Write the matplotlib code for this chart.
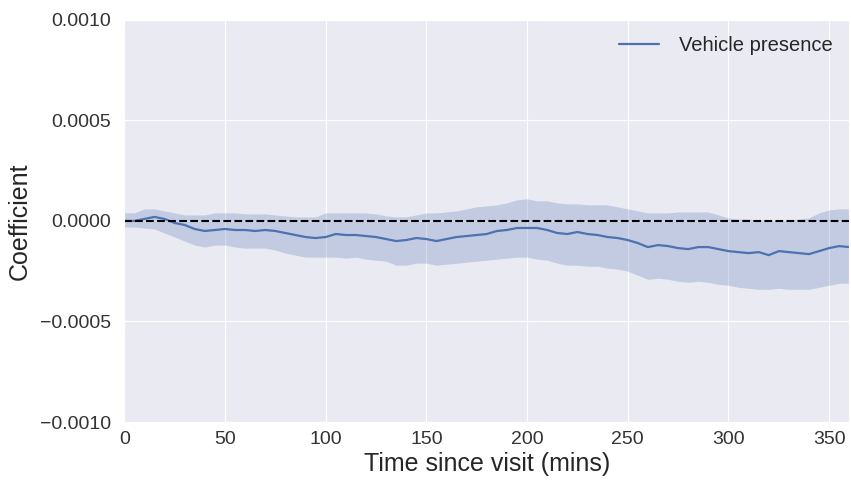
import matplotlib
matplotlib.use("Agg")
import matplotlib.pyplot as plt
import numpy as np
import seaborn as sns

sns.set_style("darkgrid")
plt.rcParams['font.family'] = ['Liberation Sans', 'DejaVu Sans']

# Time since visit (mins), every 5 minutes
minutes = list(range(0, 361, 5))

# Coefficient (units of 1e-5)
coef = [0, 0, 1, 2, 1, -1, -2, -4, -5, -4.5, -4, -4.5, -4.5, -5, -4.5, -5, -6, -7,
        -8, -8.5, -8, -6.5, -7, -7, -7.5, -8, -9, -10, -9.5, -8.5, -9, -10, -9, -8,
        -7.5, -7, -6.5, -5, -4.5, -3.5, -3.5, -3.5, -4.5, -6, -6.5, -5.5, -6.5, -7,
        -8, -8.5, -9.5, -11, -13, -12, -12.5, -13.5, -14, -13, -13, -14, -15, -15.5,
        -16, -15.5, -17, -15, -15.5, -16, -16.5, -15, -13.5, -12.5, -13]

upper = [4, 4, 6, 6, 5, 4, 3, 3, 3, 4, 4, 4, 3.5, 3.5, 3.5, 3, 2.5, 2, 2, 2, 4, 4,
         4, 4, 4, 3.5, 2.5, 2, 2, 3, 4, 4, 4.5, 5, 6, 7, 7.5, 8, 9, 10.5, 11, 10, 10,
         9, 8.5, 8.5, 8, 8, 8, 7, 6, 5, 4, 4, 4, 4.5, 4.5, 4.5, 4.5, 3, 1.5, 1, 1,
         0.5, 0.5, 0, 0.5, 1, 1.5, 4, 5.5, 6, 6]

lower = [-3, -3, -3.5, -4, -6, -8, -10, -12, -13, -12, -12, -13, -13.5, -13.5, -13.5,
         -14.5, -16, -17, -18, -18, -18, -18, -18.5, -18, -19, -19.5, -20, -22, -22,
         -21, -21, -22, -21.5, -21, -20.5, -20, -19.5, -19, -18.5, -18, -18, -19,
         -19.5, -21, -22, -22, -22.5, -22.5, -23.5, -24, -25, -27, -29, -28.5, -29,
         -30, -30.5, -30, -30.5, -31.5, -32, -33, -33.5, -34, -34, -33.5, -34, -34,
         -34, -33, -32, -31, -31]

x = np.array(minutes)
y = np.array(coef) * 1e-5
lo = np.array(lower) * 1e-5
hi = np.array(upper) * 1e-5

fig = plt.figure(figsize=(8.51, 4.84), dpi=100)
ax = fig.add_axes([0.146, 0.128, 0.852, 0.831])

blue = "#4C72B0"
ax.fill_between(x, lo, hi, color=blue, alpha=0.25, linewidth=0)
ax.plot(x, y, color=blue, linewidth=1.6, label="Vehicle presence")
ax.axhline(0, color="black", linestyle="--", linewidth=1.5)

ax.set_xlim(0, 360)
ax.set_ylim(-0.001, 0.001)
ax.set_xticks([0, 50, 100, 150, 200, 250, 300, 350])
ax.set_yticks([-0.001, -0.0005, 0, 0.0005, 0.001])
ax.set_yticklabels(["\u22120.0010", "\u22120.0005", "0.0000", "0.0005", "0.0010"])
ax.tick_params(labelsize=14, colors="#333333", pad=6)
ax.tick_params(axis="x", pad=3)
ax.set_xlabel("Time since visit (mins)", fontsize=18, labelpad=3, color="#262626")
ax.set_ylabel("Coefficient", fontsize=18, labelpad=6, color="#262626")
ax.legend(loc="upper right", frameon=False, fontsize=14.5, borderaxespad=0.4,
          handlelength=2.0, handletextpad=1.0)

fig.savefig("out.png", dpi=100)
